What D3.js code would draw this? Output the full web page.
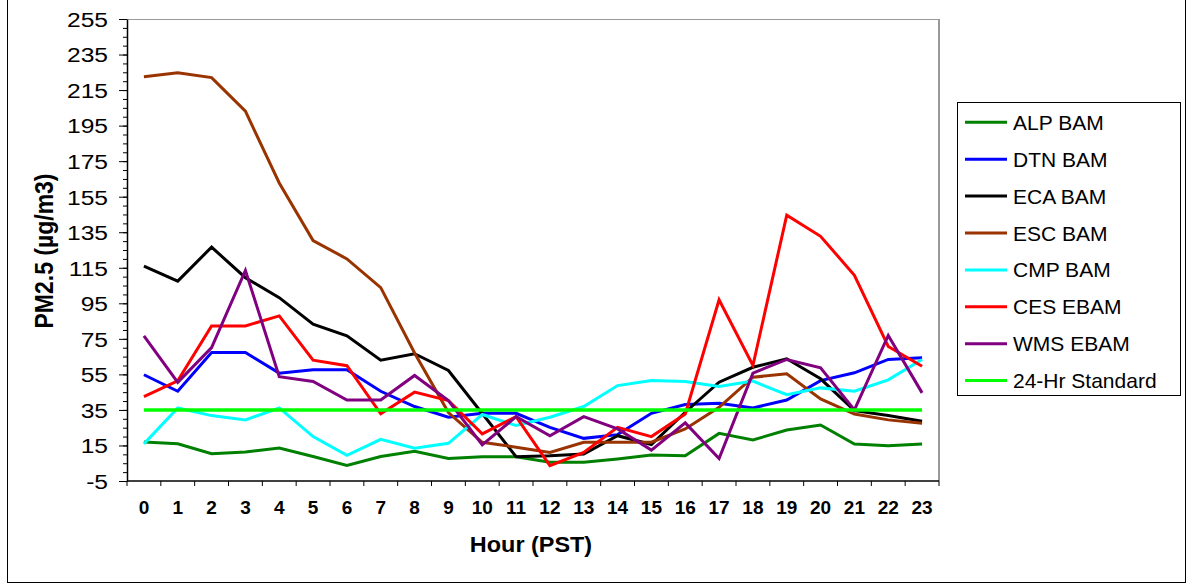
<!DOCTYPE html>
<meta charset="utf-8">
<style>
  body { margin: 0; background: #fff; }
  text { font-family: Arial, "Liberation Sans", sans-serif; }
</style>
<body>
<script src="https://d3js.org/d3.v7.min.js"></script>
<script>

// hour labels along the x axis
var hours = [0, 1, 2, 3, 4, 5, 6, 7, 8, 9, 10, 11, 12, 13, 14, 15, 16, 17, 18, 19, 20, 21, 22, 23];

// hourly PM2.5 (ug/m3)
var alpBam = [16.9, 15.9, 10.3, 11.3, 13.5, 8.8, 3.8, 8.8, 11.7, 7.7, 8.7, 8.7, 5.5, 5.5, 7.4, 9.6, 9.2, 21.8, 18.1, 23.7, 26.5, 15.8, 14.9, 15.8];
var dtnBam = [54.8, 45.5, 67.3, 67.3, 55.7, 57.6, 57.6, 45.5, 36.9, 30.9, 33.1, 33.1, 25.2, 19, 21.1, 33.1, 38, 38.8, 36.1, 40.6, 51.5, 55.9, 63.4, 64.3];
var ecaBam = [115.9, 107.5, 126.6, 109.4, 98.2, 83.2, 76.7, 63, 66.6, 57.2, 33, 8.7, 9.2, 10.2, 20.5, 15.5, 33.7, 50.6, 59, 63.8, 52.5, 34.6, 31.8, 28.6];
var escBam = [222.5, 224.8, 222, 203.1, 162.7, 130.3, 120, 103.8, 67, 33.5, 16.8, 14, 11.1, 16.8, 16.8, 16.8, 24.3, 36.5, 53.4, 55.3, 41.2, 32.7, 29.4, 27.5];
var cmpBam = [15.9, 36.1, 31.8, 29.4, 36.1, 20, 9.4, 18.4, 13.4, 16.2, 32.4, 26.2, 30.9, 36.9, 48.7, 51.5, 51, 48.2, 51.2, 43.6, 47.4, 45.5, 51.9, 63.4];
var cesEbam = [42.5, 51.4, 82.3, 82.3, 87.9, 63, 59.9, 32.8, 45, 40.3, 21.5, 31.2, 3.6, 11.1, 25.2, 20, 32.7, 97, 60, 144.6, 132.7, 110.8, 70.7, 59.6];
var wmsEbam = [76.7, 50.5, 70.1, 113.5, 53.7, 51, 40.6, 40.6, 54.4, 40.3, 15.3, 31.2, 20.5, 31.2, 24.3, 12.4, 27.7, 7.7, 55.7, 63.4, 58.7, 35, 76.9, 44.6];
var standard = [35, 35, 35, 35, 35, 35, 35, 35, 35, 35, 35, 35, 35, 35, 35, 35, 35, 35, 35, 35, 35, 35, 35, 35];

var seriesNames = ["ALP BAM", "DTN BAM", "ECA BAM", "ESC BAM", "CMP BAM", "CES EBAM", "WMS EBAM", "24-Hr Standard"];
var seriesValues = [alpBam, dtnBam, ecaBam, escBam, cmpBam, cesEbam, wmsEbam, standard];
var seriesColors = ["#008000", "#0000ff", "#000000", "#993300", "#00ffff", "#ff0000", "#800080", "#00ff00"];

var yTicks = [-5, 15, 35, 55, 75, 95, 115, 135, 155, 175, 195, 215, 235, 255];

var width = 1188, height = 583;
var plot = {left: 127, right: 939, top: 19, bottom: 481};

var svg = d3.select("body")
  .append("svg")
    .attr("width", width)
    .attr("height", height);

// outer chart frame
svg.append("rect")
  .attr("x", 7.5).attr("y", -2)
  .attr("width", 1178).attr("height", 584.5)
  .attr("fill", "#fff")
  .attr("stroke", "#000")
  .attr("stroke-width", 1);

var x = d3.scaleBand()
  .domain(hours)
  .range([plot.left, plot.right]);

var y = d3.scaleLinear()
  .domain([-5, 255])
  .range([plot.bottom, plot.top]);

// plot area border (top / right in grey)
svg.append("line")
  .attr("x1", plot.left).attr("x2", plot.right)
  .attr("y1", plot.top + 0.5).attr("y2", plot.top + 0.5)
  .attr("stroke", "#999").attr("stroke-width", 1);
svg.append("line")
  .attr("x1", plot.right).attr("x2", plot.right)
  .attr("y1", plot.top).attr("y2", plot.bottom)
  .attr("stroke", "#999").attr("stroke-width", 2);

// minor y ticks every 5
var minor = d3.range(-5, 256, 5);
svg.append("g")
  .attr("transform", "translate(" + plot.left + ",0)")
  .call(d3.axisLeft(y).tickValues(minor).tickSize(4).tickFormat(""))
  .call(function(g) { g.select(".domain").remove(); })
  .selectAll("line").attr("stroke", "#000");

// major y axis
var yAxis = svg.append("g")
  .attr("transform", "translate(" + plot.left + ",0)")
  .call(d3.axisLeft(y).tickValues(yTicks).tickSize(8).tickSizeOuter(0)
    .tickFormat(function(d) { return String(d); }));
yAxis.select(".domain").attr("stroke", "#000").attr("stroke-width", 1.5);
yAxis.selectAll("text")
  .attr("x", 0)
  .attr("dy", "0.36em")
  .attr("transform", "translate(-19,0) scale(1.2,1)")
  .style("font-size", "20.5px")
  .style("font-family", "Arial, 'Liberation Sans', sans-serif")
  .attr("fill", "#000");

// x axis line
svg.append("line")
  .attr("x1", plot.left).attr("x2", plot.right)
  .attr("y1", plot.bottom).attr("y2", plot.bottom)
  .attr("stroke", "#000").attr("stroke-width", 1.5);

// x ticks at the category boundaries
svg.selectAll("xTicks")
  .data(hours.concat(["end"]))
  .enter()
  .append("line")
    .attr("x1", function(d) { return d === "end" ? plot.right : x(d); })
    .attr("x2", function(d) { return d === "end" ? plot.right : x(d); })
    .attr("y1", plot.bottom)
    .attr("y2", plot.bottom + 5)
    .attr("stroke", "#000");

// x tick labels
svg.selectAll("xLabels")
  .data(hours)
  .enter()
  .append("text")
    .attr("x", function(d) { return x(d) + x.bandwidth() / 2; })
    .attr("y", 514)
    .attr("text-anchor", "middle")
    .style("font-size", "19px")
    .style("font-weight", "bold")
    .text(function(d) { return d; });

// axis titles
svg.append("text")
  .attr("transform", "translate(531,552) scale(1.09,1)")
  .attr("text-anchor", "middle")
  .style("font-size", "21.5px")
  .style("font-weight", "bold")
  .text("Hour (PST)");

svg.append("text")
  .attr("transform", "translate(53,251) scale(1.1,1) rotate(-90)")
  .attr("text-anchor", "middle")
  .style("font-size", "23px")
  .style("font-weight", "bold")
  .text("PM2.5 (µg/m3)");

// lines
var line = d3.line()
  .x(function(d, i) { return x(hours[i]) + x.bandwidth() / 2; })
  .y(function(d) { return y(d); });

svg.selectAll("myLines")
  .data(seriesValues)
  .enter()
  .append("path")
    .attr("d", function(d) { return line(d); })
    .attr("stroke", function(d, i) { return seriesColors[i]; })
    .attr("stroke-width", function(d, i) { return i === 7 ? 3.5 : 3; })
    .attr("stroke-linejoin", "miter")
    .attr("fill", "none");

// legend
var legend = svg.append("g");
legend.append("rect")
  .attr("x", 957.5).attr("y", 102.5)
  .attr("width", 223).attr("height", 293)
  .attr("fill", "#fff")
  .attr("stroke", "#000");

var entry = legend.selectAll("myLegend")
  .data(seriesNames)
  .enter()
  .append("g")
    .attr("transform", function(d, i) { return "translate(0," + (122.3 + i * 36.9) + ")"; });

entry.append("line")
  .attr("x1", 965).attr("x2", 1007)
  .attr("stroke", function(d, i) { return seriesColors[i]; })
  .attr("stroke-width", 3);

entry.append("text")
  .attr("x", 1013)
  .attr("dy", "0.36em")
  .style("font-size", "21px")
  .text(function(d) { return d; });

</script>
</body>
